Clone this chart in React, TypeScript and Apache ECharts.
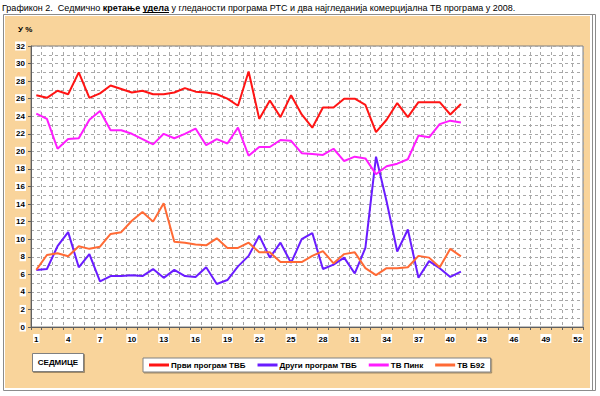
import React, { useEffect, useRef } from "react";
import * as echarts from "echarts";

const weeks: string[] = Array.from({ length: 52 }, (_, i) => String(i + 1));

const prviProgram = [26.4, 26.1, 26.9, 26.5, 29.0, 26.1, 26.6, 27.5, 27.1, 26.7, 26.9, 26.5, 26.5, 26.7, 27.2, 26.8, 26.7, 26.5, 26.0, 25.2, 29.1, 23.7, 25.8, 23.9, 26.4, 24.2, 22.7, 25.0, 25.0, 26.0, 26.0, 25.3, 22.2, 23.6, 25.5, 23.9, 25.6, 25.6, 25.6, 24.2, 25.4];
const drugiProgram = [6.5, 6.6, 9.2, 10.8, 6.8, 8.3, 5.2, 5.8, 5.8, 5.9, 5.8, 6.6, 5.6, 6.5, 5.8, 5.7, 6.8, 4.9, 5.35, 6.9, 8.1, 10.4, 7.9, 9.6, 7.3, 10.0, 10.7, 6.6, 7.1, 7.9, 6.1, 9.0, 19.4, 14.3, 8.6, 11.1, 5.6, 7.5, 6.7, 5.7, 6.3];
const tvPink = [24.3, 23.7, 20.3, 21.4, 21.5, 23.6, 24.6, 22.4, 22.4, 22.0, 21.4, 20.8, 22.0, 21.5, 22.0, 22.6, 20.7, 21.4, 20.9, 22.7, 19.5, 20.5, 20.5, 21.3, 21.2, 19.8, 19.7, 19.6, 20.3, 18.9, 19.4, 19.2, 17.4, 18.3, 18.6, 19.1, 21.8, 21.6, 23.1, 23.5, 23.3];
const tvB92 = [6.5, 8.2, 8.4, 8.05, 9.2, 8.9, 9.15, 10.6, 10.8, 12.1, 13.1, 12.0, 14.1, 9.7, 9.6, 9.4, 9.3, 10.1, 9.0, 9.0, 9.6, 8.5, 8.5, 7.4, 7.4, 7.4, 8.1, 8.65, 7.25, 8.3, 8.5, 6.7, 5.9, 6.7, 6.7, 6.8, 8.1, 7.9, 6.8, 8.9, 8.05];

const seriesNames = ["Први програм ТВБ", "Други програм ТВБ", "ТВ Пинк", "ТВ Б92"];
const seriesColors = ["#FF1414", "#6A1CFF", "#FF1CFF", "#FF6A35"];

const titleSegments: { text: string; bold: boolean; underline?: boolean }[] = [
  { text: "Графикон 2.  Седмично ", bold: false },
  { text: "кретање", bold: true },
  { text: " ", bold: false },
  { text: "удела", bold: true, underline: true },
  { text: " у гледаности програма РТС и два најгледанија комерцијална ТВ програма у 2008.", bold: false },
];

const FONT = '"Liberation Sans", Arial, sans-serif';

export default function App() {
  const ref = useRef<HTMLDivElement>(null);

  useEffect(() => {
    if (!ref.current) return;
    const chart = echarts.init(ref.current, undefined, { renderer: "svg" });

    const titleSize = 9;
    const ctx = document.createElement("canvas").getContext("2d")!;
    const titleEls: any[] = [];
    let cx = 2;
    titleSegments.forEach((s) => {
      ctx.font = `${s.bold ? "bold " : ""}${titleSize}px ${FONT}`;
      const w = ctx.measureText(s.text).width;
      titleEls.push({
        type: "text",
        x: cx,
        y: 3,
        style: {
          text: s.text,
          font: `${s.bold ? "bold " : ""}${titleSize}px ${FONT}`,
          fill: "#000",
        },
      });
      if (s.underline) {
        titleEls.push({
          type: "line",
          shape: { x1: cx, y1: 12.5, x2: cx + w, y2: 12.5 },
          style: { stroke: "#000", lineWidth: 1 },
        });
      }
      cx += w;
    });

    const series = [prviProgram, drugiProgram, tvPink, tvB92].map((d, i) => ({
      name: seriesNames[i],
      type: "line",
      data: d,
      showSymbol: false,
      symbol: "none",
      lineStyle: { color: seriesColors[i], width: 2 },
      itemStyle: { color: seriesColors[i] },
      z: 3,
    }));

    chart.setOption({
      animation: false,
      textStyle: { fontFamily: FONT },
      grid: {
        left: 31,
        right: 17,
        top: 46,
        bottom: 69,
        show: true,
        backgroundColor: "#ffffff",
        borderColor: "#808080",
        borderWidth: 1,
      },
      xAxis: {
        type: "category",
        data: weeks,
        boundaryGap: true,
        axisLine: { lineStyle: { color: "#606060", width: 1 } },
        axisTick: { show: true, interval: 0, length: 3, lineStyle: { color: "#606060" } },
        axisLabel: {
          interval: 2,
          margin: 7,
          fontSize: 8,
          fontWeight: "bold",
          color: "#000",
          backgroundColor: "#ffffff",
          padding: [1, 1, 0, 1],
        },
        splitLine: {
          show: true,
          interval: 0,
          lineStyle: { color: "#a8a8a8", type: [3, 3], width: 1 },
        },
      },
      yAxis: {
        type: "value",
        min: 0,
        max: 32,
        interval: 2,
        axisLine: { show: true, lineStyle: { color: "#606060", width: 1 } },
        axisTick: { show: true, length: 3, lineStyle: { color: "#606060" } },
        axisLabel: {
          margin: 5,
          fontSize: 8,
          fontWeight: "bold",
          color: "#000",
          backgroundColor: "#ffffff",
          padding: [1, 1, 0, 1],
        },
        splitLine: { show: true, lineStyle: { color: "#a8a8a8", type: [3, 3], width: 1 } },
        minorTick: { show: false, splitNumber: 2 },
        minorSplitLine: { show: true, lineStyle: { color: "#a8a8a8", type: [3, 3], width: 1 } },
      },
      legend: {
        left: 143,
        top: 358,
        data: seriesNames,
        icon: "rect",
        itemWidth: 20,
        itemHeight: 3,
        itemGap: 12,
        padding: [3, 6, 3, 6],
        backgroundColor: "#ffffff",
        borderColor: "#808080",
        borderWidth: 1,
        shadowColor: "rgba(0,0,0,0.35)",
        shadowOffsetX: 1,
        shadowOffsetY: 1,
        shadowBlur: 0,
        textStyle: { fontSize: 8, fontWeight: "bold", color: "#000", padding: [0, 0, 0, -3] },
      },
      graphic: [
        {
          type: "rect",
          z: -10,
          silent: true,
          shape: { x: 3.5, y: 14.5, width: 592, height: 376 },
          style: { fill: "#ffffff", stroke: "#8c8c8c", lineWidth: 1 },
        },
        {
          type: "rect",
          z: -9,
          silent: true,
          shape: { x: 5, y: 16, width: 585, height: 372 },
          style: { fill: "#F9D49B" },
        },
        {
          type: "line",
          z: -9,
          silent: true,
          shape: { x1: 592.5, y1: 14.5, x2: 592.5, y2: 390.5 },
          style: { stroke: "#8c8c8c", lineWidth: 1 },
        },
        {
          type: "text",
          x: 18,
          y: 25,
          style: { text: "У %", font: `bold 8px ${FONT}`, fill: "#000" },
        },
        {
          type: "rect",
          shape: { x: 32.5, y: 353.5, width: 51, height: 18 },
          style: {
            fill: "#ffffff",
            stroke: "#808080",
            lineWidth: 1,
            shadowColor: "rgba(0,0,0,0.35)",
            shadowOffsetX: 1,
            shadowOffsetY: 1,
          },
        },
        {
          type: "text",
          x: 58,
          y: 362.5,
          style: {
            text: "СЕДМИЦЕ",
            font: `bold 8px ${FONT}`,
            fill: "#000",
            align: "center",
            verticalAlign: "middle",
          },
        },
        ...titleEls,
      ],
      series,
    });

    return () => chart.dispose();
  }, []);

  return (
    <div
      ref={ref}
      style={{ position: "fixed", left: 0, top: 0, width: 600, height: 396, background: "#fff" }}
    />
  );
}
